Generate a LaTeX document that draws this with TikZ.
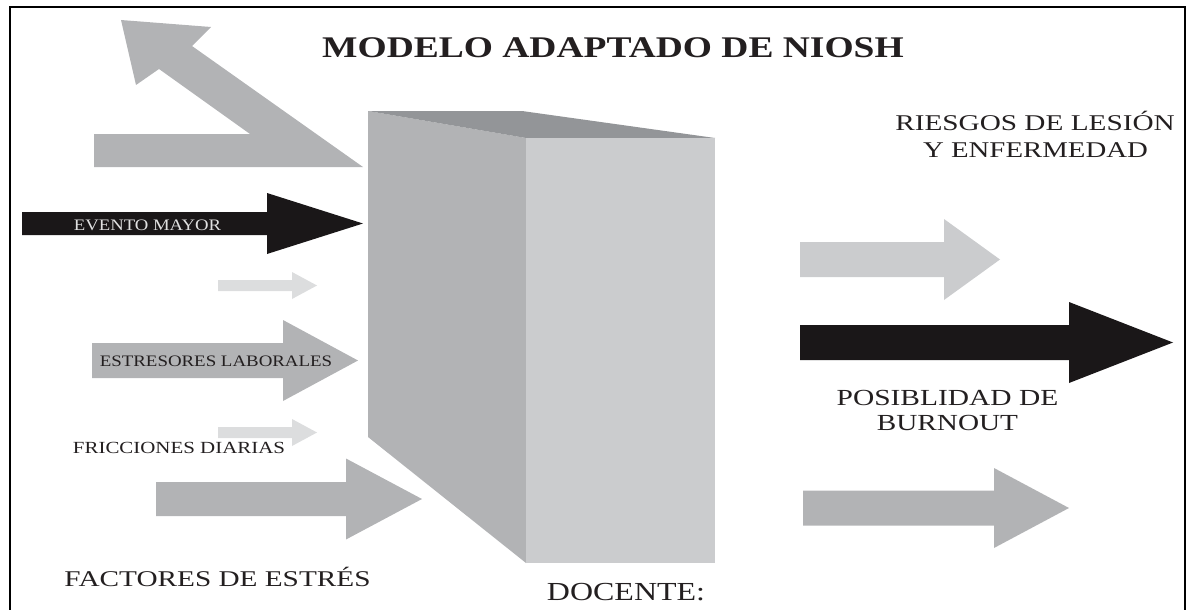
\documentclass[tikz,border=0pt]{standalone}
\usepackage{fontspec}
\setmainfont{Liberation Serif}
\usepackage{graphicx}
\definecolor{txt}{HTML}{231F20}
\definecolor{gmid}{HTML}{B2B3B5}
\definecolor{glight}{HTML}{CBCCCE}
\definecolor{gpale}{HTML}{DCDDDE}
\definecolor{gdark}{HTML}{939598}
\definecolor{blk}{HTML}{1A1718}
\newcommand{\blockarr}[7]{%
  \fill[#1] (#2,#5-#6) -- (#3,#5-#6) -- (#3,#5-#7) -- (#4,#5) -- (#3,#5+#7) -- (#3,#5+#6) -- (#2,#5+#6) -- cycle;}
\newcommand{\sxt}[2]{\scalebox{#1}[1]{#2}}
\begin{document}
\begin{tikzpicture}[x=1pt,y=-1pt,
  lbl/.style={inner sep=0pt,anchor=base,text=txt},
  frame/.style={line width=2.6pt,draw=black}]
\useasboundingbox (0,0) rectangle (1189,610);
% frame
\draw[frame] (10,611) -- (10,7) -- (1185,7) -- (1185,611);
% bent arrow (top left)
\fill[gmid] (94,134) -- (250,134) -- (159,69) -- (136,85) -- (121,20) -- (211,27) -- (192,46) -- (363,167) -- (94,167) -- cycle;
% box
\fill[gmid] (368,111) -- (526,138) -- (526,563) -- (368,437) -- cycle;
\fill[gdark] (368,111) -- (522,111) -- (715,138) -- (526,138) -- cycle;
\fill[glight] (526,138) rectangle (715,563);
% left arrows
\blockarr{blk}{22}{267}{363}{223.5}{11.5}{30.5}
\blockarr{gpale}{218}{292}{317}{285.5}{5.5}{13.5}
\blockarr{gmid}{92}{283}{358}{360.5}{17.5}{40.5}
\blockarr{gpale}{218}{292}{317}{432.5}{5.5}{13.5}
\blockarr{gmid}{156}{346}{422}{499}{17}{40.5}
% right arrows
\blockarr{glight}{800}{944}{1000}{259.5}{17.5}{40.5}
\blockarr{blk}{800}{1069}{1173}{342.5}{17.5}{40.5}
\blockarr{gmid}{803}{994}{1069}{508}{17.5}{40}
% texts
\node[lbl,font=\fontsize{30}{31}\selectfont\bfseries] (title) at (613,58) {\sxt{1.25}{MODELO ADAPTADO DE NIOSH}};
\node[lbl,text=white!88!black,font=\fontsize{16}{17}\selectfont] (evento) at (147.5,230) {\sxt{1.17}{EVENTO MAYOR}};
\node[lbl,font=\fontsize{16}{17}\selectfont] (estres) at (216,366.5) {\sxt{1.18}{ESTRESORES LABORALES}};
\node[lbl,font=\fontsize{17}{18}\selectfont] (fricc) at (179,453) {\sxt{1.23}{FRICCIONES DIARIAS}};
\node[lbl,font=\fontsize{22.5}{23}\selectfont] (factores) at (217.5,586) {\sxt{1.30}{FACTORES DE ESTRÉS}};
\node[lbl,font=\fontsize{26}{27}\selectfont] (docente) at (626,600) {\sxt{1.23}{DOCENTE:}};
\node[lbl,font=\fontsize{22.5}{23}\selectfont] (riesgos1) at (1035,130.5) {\sxt{1.30}{RIESGOS DE LESIÓN}};
\node[lbl,font=\fontsize{22.5}{23}\selectfont] (riesgos2) at (1035.5,157) {\sxt{1.28}{Y ENFERMEDAD}};
\node[lbl,font=\fontsize{23}{24}\selectfont] (burn1) at (947.5,405) {\sxt{1.28}{POSIBLIDAD DE}};
\node[lbl,font=\fontsize{23}{24}\selectfont] (burn2) at (947.5,430) {\sxt{1.27}{BURNOUT}};
\end{tikzpicture}
\end{document}
